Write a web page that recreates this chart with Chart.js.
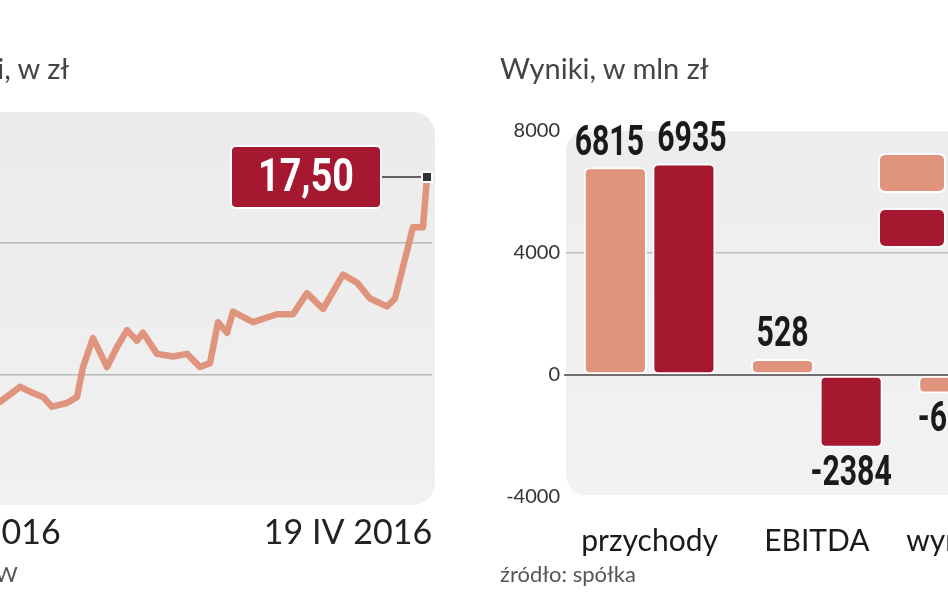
<!DOCTYPE html>
<html><head><meta charset="utf-8">
<script src="https://cdn.jsdelivr.net/npm/chart.js@4"></script>
<style>
body{margin:0;width:948px;height:593px;overflow:hidden;background:#fff;position:relative;font-family:Lato,"Open Sans",sans-serif;color:#333}
.t{position:absolute;white-space:nowrap}
#c1{position:absolute;left:-120px;top:0}
#c2{position:absolute;left:480px;top:0}
</style></head><body>
<canvas id="c1" width="560" height="593" style="width:560px;height:593px"></canvas>
<canvas id="c2" width="600" height="593" style="width:600px;height:593px"></canvas>
<div class="t" style="left:-117px;top:50px;font-size:29px;color:#444">Kurs akcji, w zł</div>
<div class="t" style="left:500px;top:50px;font-size:29px;color:#444">Wyniki, w mln zł</div>
<div class="t" style="left:-107px;top:560px;font-size:22px;color:#555">źródło: GPW</div>
<div class="t" style="left:500px;top:560px;font-size:22px;color:#555">źródło: spółka</div>
<script>
// ---- line chart data (price, zł) ----
const priceX = [-60,-30,0,20,33,43,52,67,77,83,93,107,117,127,137,143,157,173,187,200,210,218,227,233,253,277,293,307,323,343,357,370,387,395,413,423,427];
const priceY = [8.3,8.7,8.98,9.55,9.32,9.17,8.8,8.94,9.17,10.3,11.4,10.3,11.06,11.7,11.3,11.6,10.8,10.7,10.8,10.3,10.45,12.0,11.6,12.4,12.0,12.3,12.3,13.1,12.5,13.8,13.5,12.9,12.6,12.9,15.6,15.6,17.5];
const dateTickX = [-2,348];
const dateTickLabels = ["4 I 2016","19 IV 2016"];
const priceGrid = [10,15];
const lastPriceLabel = "17,50";
// ---- bar chart data (mln zł) ----
const categories = ["przychody","EBITDA","wynik netto"];
const series2014 = [6815,528,-605];
const series2015 = [6935,-2384,-650];
const seriesNames = ["2014","2015"];
const barTicks = [8000,4000,0,-4000];

const LIGHT='#e0937d', DARK='#a5182f';
function rr(ctx,x,y,w,h,r){ctx.beginPath();ctx.roundRect(x,y,w,h,r);}

new Chart(document.getElementById('c1'),{
 type:'line',
 data:{datasets:[{data:priceX.map((x,i)=>({x,y:priceY[i]})),borderColor:LIGHT,borderWidth:6.5,pointRadius:0,tension:0,borderJoinStyle:'round'}]},
 options:{responsive:false,animation:false,
  layout:{padding:{left:0,right:8,top:111,bottom:86}},
  plugins:{legend:{display:false},tooltip:{enabled:false}},
  scales:{
   x:{type:'linear',min:-120,max:432,display:false},
   y:{min:5,max:20,display:true,afterFit:s=>{s.width=0},ticks:{display:false},border:{display:false},
      afterBuildTicks:s=>{s.ticks=priceGrid.map(v=>({value:v}))},
      grid:{color:'#b8b8b8',lineWidth:1.5,drawTicks:false}}
  }},
 plugins:[{id:'bg',beforeDraw(c){const ctx=c.ctx,a=c.chartArea;ctx.save();
   const g=ctx.createLinearGradient(0,a.top,0,a.bottom);g.addColorStop(0,'#ebebeb');g.addColorStop(1,'#f1f1f1');
   ctx.fillStyle=g;rr(ctx,a.left+20,a.top+1,a.right-a.left-20+3,a.bottom-a.top-3,22);ctx.fill();ctx.restore();},
  afterDraw(c){const ctx=c.ctx,xs=c.scales.x,ys=c.scales.y;ctx.save();
   ctx.font='34px Lato, "Open Sans", sans-serif';ctx.fillStyle='#222';ctx.textAlign='center';ctx.textBaseline='middle';
   dateTickX.forEach((v,i)=>ctx.fillText(dateTickLabels[i],xs.getPixelForValue(v),533));
   const px=xs.getPixelForValue(priceX[priceX.length-1]),py=ys.getPixelForValue(priceY[priceY.length-1]);
   ctx.strokeStyle='#333';ctx.lineWidth=1.5;ctx.beginPath();ctx.moveTo(px-50,py);ctx.lineTo(px,py);ctx.stroke();
   ctx.fillStyle='#fff';ctx.fillRect(px-6,py-6,12,12);ctx.fillStyle='#333';ctx.fillRect(px-4,py-4,8,8);
   const bx=px-195,bw=148,by=py-30,bh=60;
   ctx.fillStyle='#fff';rr(ctx,bx-2,by-2,bw+4,bh+4,6);ctx.fill();
   ctx.fillStyle=DARK;rr(ctx,bx,by,bw,bh,4);ctx.fill();
   ctx.fillStyle='#fff';ctx.font='bold 46px Roboto,sans-serif';
   ctx.translate(bx+bw/2,py+2);ctx.scale(0.82,1);ctx.fillText(lastPriceLabel,0,0);ctx.restore();}}]
});

const valLabels={id:'vl',afterDatasetsDraw(c){const ctx=c.ctx;
  c.data.datasets.forEach((d,di)=>c.getDatasetMeta(di).data.forEach((b,i)=>{const v=d.data[i];
   ctx.save();ctx.font='bold 42px Roboto,sans-serif';ctx.fillStyle='#1a1a1a';ctx.textAlign='center';
   const dx=(i===0)?(di===0?-6:8):0;
   if(v>=0){ctx.textBaseline='bottom';ctx.translate(b.x+dx,b.y-2);}
   else{ctx.textBaseline='top';ctx.translate(b.x+dx,b.y+6);}
   ctx.scale(0.72,1);ctx.fillText(String(v),0,0);ctx.restore();}));
  }};
const bg2={id:'bg2',beforeDraw(c){const ctx=c.ctx,a=c.chartArea;ctx.save();
  const g=ctx.createLinearGradient(0,a.top,0,a.bottom);g.addColorStop(0,'#ededed');g.addColorStop(1,'#f2f2f2');
  ctx.fillStyle=g;rr(ctx,a.left,a.top,a.right-a.left+40,a.bottom-a.top-2,20);ctx.fill();ctx.restore();},
 afterDraw(c){const ctx=c.ctx,y=c.scales.y;ctx.save();
  const z=y.getPixelForValue(0);ctx.strokeStyle='#444';ctx.lineWidth=1.5;ctx.beginPath();ctx.moveTo(c.chartArea.left-2,z);ctx.lineTo(c.chartArea.right,z);ctx.stroke();
  [[LIGHT,155],[DARK,210]].forEach(([col,t],i)=>{ctx.fillStyle='#fff';rr(ctx,400-2,t-2,68,40,7);ctx.fill();ctx.fillStyle=col;rr(ctx,400,t,64,36,5);ctx.fill();
   ctx.fillStyle='#222';ctx.font='24px Lato, sans-serif';ctx.textBaseline='middle';ctx.fillText(seriesNames[i],480,t+18);});
  ctx.restore();}};
new Chart(document.getElementById('c2'),{
 type:'bar',
 data:{labels:categories,datasets:[
  {label:seriesNames[0],data:series2014,backgroundColor:LIGHT,borderColor:'#fff',borderWidth:2,borderRadius:6,borderSkipped:false,categoryPercentage:0.82,barPercentage:0.92},
  {label:seriesNames[1],data:series2015,backgroundColor:DARK,borderColor:'#fff',borderWidth:2,borderRadius:6,borderSkipped:false,categoryPercentage:0.82,barPercentage:0.92}]},
 options:{responsive:false,animation:false,
  layout:{padding:{left:0,right:0,top:131,bottom:0}},
  plugins:{legend:{display:false},tooltip:{enabled:false}},
  scales:{
   x:{grid:{display:false},border:{display:false},afterFit:s=>{s.height=96},
      ticks:{color:'#1a1a1a',font:{size:30,family:'Lato, "Open Sans", sans-serif'},padding:18}},
   y:{min:-4000,max:8000,afterFit:s=>{s.width=86},border:{display:false},
      afterBuildTicks:s=>{s.ticks=barTicks.map(v=>({value:v}))},
      grid:{color:c=>c.tick.value===4000?'#bdbdbd':'rgba(0,0,0,0)',drawTicks:false,lineWidth:1.5},
      ticks:{color:'#333',font:{size:20,family:'Lato, "Open Sans", sans-serif'},padding:6,callback:v=>String(v)}}
  }},
 plugins:[bg2,valLabels]
});
</script></body></html>
